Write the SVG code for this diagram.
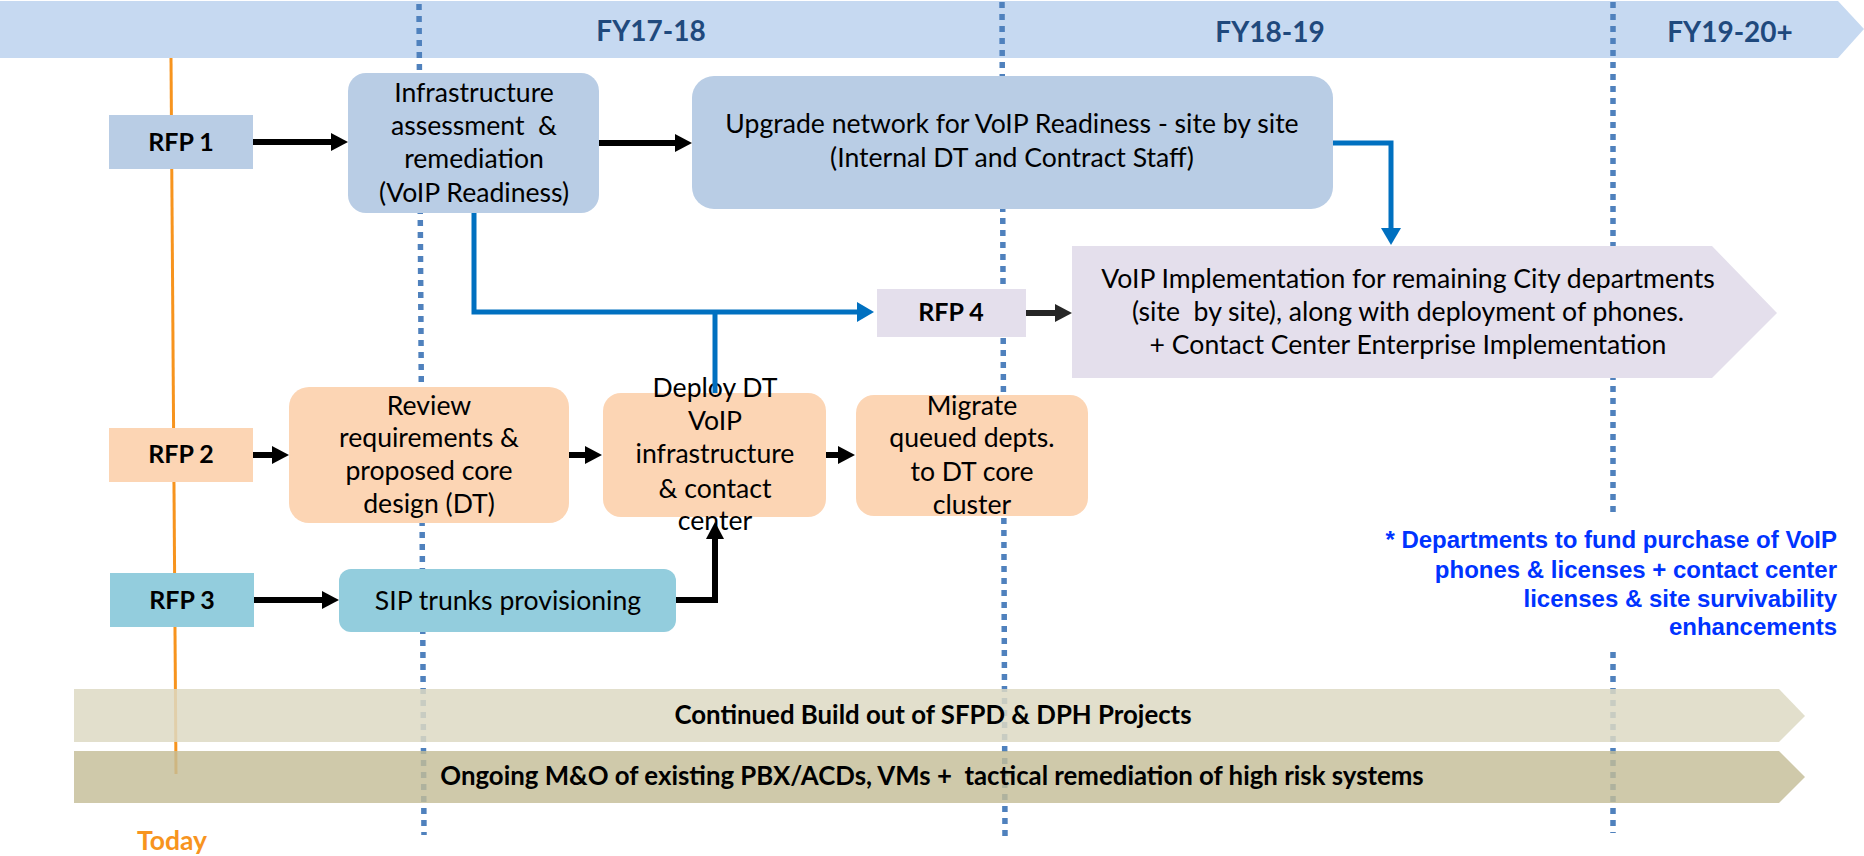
<svg xmlns="http://www.w3.org/2000/svg" width="1864" height="856" viewBox="0 0 1864 856">
<defs>
<style>
.t{font-family:Lato,'Liberation Sans',sans-serif;font-size:26.6px;fill:#000;text-anchor:middle}
.lb{font-family:Lato,'Liberation Sans',sans-serif;font-size:25px;font-weight:bold;fill:#000;text-anchor:middle}
.bar{font-family:Lato,'Liberation Sans',sans-serif;font-size:25.8px;font-weight:bold;fill:#000;text-anchor:middle}
.fy{font-family:Lato,'Liberation Sans',sans-serif;font-size:28px;font-weight:bold;fill:#1F497D;text-anchor:middle}
.note{font-family:'Liberation Sans',Arial,sans-serif;font-size:24px;font-weight:bold;fill:#0033FF;text-anchor:end}
.dot{stroke:#4F81BD;stroke-width:5.5;stroke-dasharray:6 6;fill:none}
.blue{fill:#B9CDE5}
.peach{fill:#FCD5B4}
.teal{fill:#93CDDD}
.lav{fill:#E4DFEC}
.ka{stroke:#000;stroke-width:6;fill:none;marker-end:url(#ahK)}
.ba{stroke:#0070C0;stroke-width:5;fill:none}
</style>
<marker id="ahK" markerUnits="userSpaceOnUse" markerWidth="20" markerHeight="20" refX="1" refY="9" orient="auto"><path d="M0,0 L17,9 L0,18 z" fill="#000"/></marker>
<marker id="ahG" markerUnits="userSpaceOnUse" markerWidth="20" markerHeight="20" refX="1" refY="9" orient="auto"><path d="M0,0 L17,9 L0,18 z" fill="#262626"/></marker>
<marker id="ahB" markerUnits="userSpaceOnUse" markerWidth="22" markerHeight="22" refX="1" refY="10" orient="auto"><path d="M0,0 L17,10 L0,20 z" fill="#0070C0"/></marker>
</defs>
<rect width="1864" height="856" fill="#fff"/>

<g id="timeline-header">
<polygon points="0,1 1838,1 1864,29 1838,58 0,58" fill="#C6D9F1"/>
<text class="fy" x="651" y="41">FY17-18</text>
<text class="fy" x="1270" y="42">FY18-19</text>
<text class="fy" x="1730" y="42">FY19-20+</text>
</g>

<g id="fy-dividers">
<line class="dot" x1="419" y1="4" x2="424" y2="835"/>
<line class="dot" x1="1002" y1="2" x2="1005" y2="837"/>
<line class="dot" x1="1613" y1="2" x2="1613" y2="515"/>
<line class="dot" x1="1613" y1="652" x2="1613" y2="833"/>
</g>

<g id="today">
<line x1="171" y1="58" x2="176" y2="774" stroke="#F7941E" stroke-width="3"/>
<text x="172" y="850" style="font-family:Lato,'Liberation Sans',sans-serif;font-size:26.5px;font-weight:bold;fill:#F7941E;text-anchor:middle">Today</text>
</g>

<g id="rfp1">
<rect class="blue" x="109" y="115" width="144" height="54"/>
<text class="lb" x="181" y="151">RFP 1</text>
</g>
<g id="infra">
<rect class="blue" x="348" y="73" width="251" height="140" rx="18"/>
<text class="t" x="474" y="102">Infrastructure</text>
<text class="t" x="474" y="135" xml:space="preserve">assessment  &amp;</text>
<text class="t" x="474" y="168">remediation</text>
<text class="t" x="474" y="202">(VoIP Readiness)</text>
</g>
<g id="upgrade">
<rect class="blue" x="692" y="76" width="641" height="133" rx="22"/>
<text class="t" x="1012" y="133">Upgrade network for VoIP Readiness - site by site</text>
<text class="t" x="1012" y="167">(Internal DT and Contract Staff)</text>
</g>
<g id="rfp4">
<rect class="lav" x="877" y="289" width="149" height="48"/>
<text class="lb" x="951" y="321">RFP 4</text>
</g>
<g id="voip-impl">
<polygon class="lav" points="1072,246 1712,246 1777,313 1712,378 1072,378"/>
<text class="t" x="1408" y="288">VoIP Implementation for remaining City departments</text>
<text class="t" x="1408" y="321" xml:space="preserve">(site  by site), along with deployment of phones.</text>
<text class="t" x="1408" y="354">+ Contact Center Enterprise Implementation</text>
</g>
<g id="rfp2">
<rect class="peach" x="109" y="428" width="144" height="54"/>
<text class="lb" x="181" y="463">RFP 2</text>
</g>
<g id="review">
<rect class="peach" x="289" y="387" width="280" height="136" rx="20"/>
<text class="t" x="429" y="415">Review</text>
<text class="t" x="429" y="447">requirements &amp;</text>
<text class="t" x="429" y="480">proposed core</text>
<text class="t" x="429" y="513">design (DT)</text>
</g>
<g id="deploy">
<rect class="peach" x="603" y="393" width="223" height="124" rx="18"/>
<text class="t" x="715" y="397">Deploy DT</text>
<text class="t" x="715" y="430">VoIP</text>
<text class="t" x="715" y="463">infrastructure</text>
<text class="t" x="715" y="498">&amp; contact</text>
<text class="t" x="715" y="530">center</text>
</g>
<g id="migrate">
<rect class="peach" x="856" y="395" width="232" height="121" rx="18"/>
<text class="t" x="972" y="415">Migrate</text>
<text class="t" x="972" y="447">queued depts.</text>
<text class="t" x="972" y="481">to DT core</text>
<text class="t" x="972" y="514">cluster</text>
</g>
<g id="rfp3">
<rect class="teal" x="110" y="573" width="144" height="54"/>
<text class="lb" x="182" y="609">RFP 3</text>
</g>
<g id="sip">
<rect class="teal" x="339" y="569" width="337" height="63" rx="12"/>
<text class="t" x="508" y="610">SIP trunks provisioning</text>
</g>

<g id="connectors">
<line class="ka" x1="253" y1="142" x2="332" y2="142"/>
<line class="ka" x1="599" y1="143" x2="676" y2="143"/>
<line class="ka" x1="253" y1="455" x2="273" y2="455"/>
<line class="ka" x1="569" y1="455" x2="586" y2="455"/>
<line class="ka" x1="826" y1="455" x2="839" y2="455"/>
<line class="ka" x1="254" y1="600" x2="323" y2="600"/>
<polyline class="ka" points="676,600 715,600 715,538"/>
<line x1="1026" y1="313" x2="1056" y2="313" stroke="#262626" stroke-width="6" marker-end="url(#ahG)"/>
<polyline class="ba" points="1333,143 1391,143 1391,229" marker-end="url(#ahB)"/>
<polyline class="ba" points="474,213 474,312 858,312" marker-end="url(#ahB)"/>
<line class="ba" x1="715" y1="312" x2="715" y2="393"/>
</g>

<g id="bar-sfpd-dph">
<polygon points="74,689 1779,689 1805,716 1779,742 74,742" fill="#DDD9C3" fill-opacity="0.85"/>
<text class="bar" x="933" y="724">Continued Build out of SFPD &amp; DPH Projects</text>
</g>
<g id="bar-mo">
<polygon points="74,751 1779,751 1805,777 1779,803 74,803" fill="#C4BD97" fill-opacity="0.82"/>
<text class="bar" x="932" y="785" xml:space="preserve">Ongoing M&amp;O of existing PBX/ACDs, VMs +  tactical remediation of high risk systems</text>
</g>

<g id="footnote">
<text class="note" x="1837" y="548">* Departments to fund purchase of VoIP</text>
<text class="note" x="1837" y="578">phones &amp; licenses + contact center</text>
<text class="note" x="1837" y="607">licenses &amp; site survivability</text>
<text class="note" x="1837" y="635">enhancements</text>
</g>
</svg>
